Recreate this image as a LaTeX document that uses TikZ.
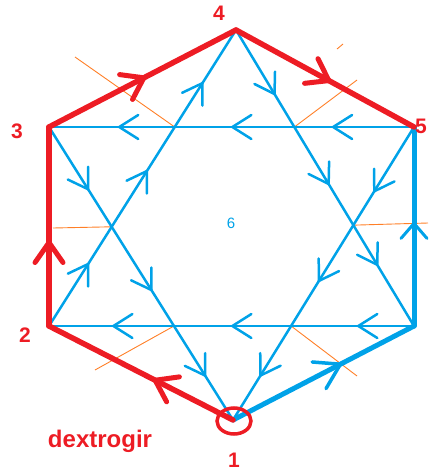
\documentclass[tikz,border=0pt]{standalone}
\usepackage{fontspec}
\setmainfont{Liberation Sans}
\usetikzlibrary{arrows.meta,decorations.markings}
\definecolor{penred}{RGB}{237,28,36}
\definecolor{penblue}{RGB}{0,162,232}
\definecolor{penorange}{RGB}{255,127,39}

\begin{document}
\begin{tikzpicture}[
  x=1pt, y=-1pt,
  rim/.style={color=penred, line width=5.5pt, line cap=round, line join=round},
  thickblue/.style={color=penblue, line width=5pt, line cap=round},
  star/.style={color=penblue, line width=2.5pt, line cap=round},
  chord/.style={color=penblue, line width=2pt},
  guide/.style={draw=penorange, line width=0.9pt},
  vnum/.style={text=penred, font=\fontsize{21}{24}\selectfont\bfseries, inner sep=0pt},
  redtip/.tip={Straight Barb[length=20pt, width=28pt, line width=5pt, round]},
  bluetip/.tip={Straight Barb[length=19pt, width=24pt, line width=2.5pt, round]},
  bigtip/.tip={Straight Barb[length=24pt, width=30pt, line width=3.5pt, round]},
  uptip/.tip={Straight Barb[length=15pt, width=26pt, line width=3pt, round]},
  mid/.style 2 args={postaction={decorate}, decoration={markings,
      mark=at position #1 with {\arrow{#2}}}},
  three/.style n args={4}{postaction={decorate}, decoration={markings,
      mark=at position #1 with {\arrow{#4}},
      mark=at position #2 with {\arrow{#4}},
      mark=at position #3 with {\arrow{#4}}}}
]
\useasboundingbox (0,0) rectangle (428,476);

% hexagon corners
\coordinate (v1) at (233,420);
\coordinate (v2) at (49,326);
\coordinate (v3) at (49,127);
\coordinate (v4) at (236,30);
\coordinate (v5) at (414,127);
\coordinate (v6) at (414,326);

% crossings of the star
\coordinate (xa) at (intersection of v2--v4 and v3--v5);
\coordinate (xb) at (intersection of v4--v6 and v3--v5);
\coordinate (xc) at (intersection of v2--v4 and v3--v1);
\coordinate (xd) at (intersection of v4--v6 and v5--v1);
\coordinate (xe) at (intersection of v3--v1 and v2--v6);
\coordinate (xf) at (intersection of v5--v1 and v2--v6);

% thin orange strokes
\coordinate (oa) at (75,57);
\coordinate (ob) at (357,80);
\coordinate (oc) at (53,228);
\coordinate (od) at (428,223);
\coordinate (oe) at (95,370);
\coordinate (of) at (357,376);
\coordinate (ds1) at (337,49);
\coordinate (ds2) at (343,44);
\draw[guide] (xa) -- (oa);
\draw[guide] (xb) -- (ob);
\draw[guide] (xc) -- (oc);
\draw[guide] (xd) -- (od);
\draw[guide] (xe) -- (oe);
\draw[guide] (xf) -- (of);
\draw[guide] (ds1) -- (ds2);

% two triangles of the star
\draw[star, three={0.213}{0.527}{0.824}{bluetip}] (v2) -- (v4);
\draw[star, three={0.22}{0.524}{0.797}{bluetip}] (v4) -- (v6);
\draw[chord, three={0.156}{0.501}{0.827}{bluetip}] (v6) -- (v2);
\draw[chord, three={0.225}{0.501}{0.811}{bluetip}] (v5) -- (v3);
\draw[star, three={0.216}{0.56}{0.852}{bluetip}] (v3) -- (v1);
\draw[star, three={0.223}{0.529}{0.852}{bluetip}] (v5) -- (v1);

% blue sides of the hexagon
\draw[thickblue, mid={0.523}{uptip}] (v6) -- (v5);
\draw[thickblue, mid={0.602}{bigtip}] (v1) -- (v6);

% red sides of the hexagon
\draw[rim, mid={0.435}{redtip}] (v1) -- (v2);
\draw[rim, mid={0.432}{redtip}] (v2) -- (v3);
\draw[rim, mid={0.519}{redtip}] (v3) -- (v4);
\draw[rim, mid={0.534}{redtip}] (v4) -- (v5);

% start marker
\draw[penred, line width=3.5pt] (234,421) ellipse [x radius=17, y radius=13];

% labels
\node[vnum] (n1) at (234,460) {1};
\node[vnum] (n2) at (25,335) {2};
\node[vnum] (n3) at (17,131) {3};
\node[vnum] (n4) at (219,13) {4};
\node[vnum] (n5) at (421,126) {5};
\node[text=penblue, font=\fontsize{15}{18}\selectfont, inner sep=0pt] (six) at (231,223) {6};
\node[text=penred, font=\fontsize{24}{28}\selectfont\bfseries, inner sep=0pt,
      anchor=base] (turn) at (100,447) {dextrogir};

\end{tikzpicture}
\end{document}
